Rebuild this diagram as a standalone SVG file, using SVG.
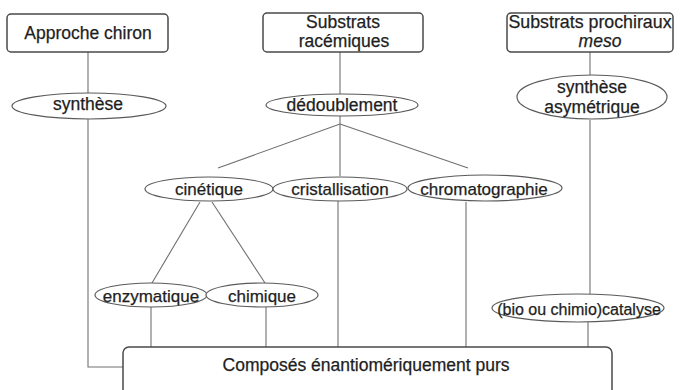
<svg xmlns="http://www.w3.org/2000/svg" width="687" height="390" viewBox="0 0 687 390">
<style>
.box{fill:#fff;stroke:#4a4a4a;stroke-width:1.5}
.ell{fill:#fff;stroke:#5a5a5a;stroke-width:1.2}
.t{font-family:"Liberation Sans",Arial,sans-serif;font-size:17.5px;fill:#1e1e1e;stroke:#1e1e1e;stroke-width:0.25;text-anchor:middle}
.c line,.c polyline{stroke:#707070;stroke-width:1.1;fill:none}
</style>
<rect width="687" height="390" fill="#fff"/>
<g class="c" id="connectors">
<line x1="88" y1="52" x2="88" y2="93"/>
<polyline points="88,119 88,367 123,367"/>
<line x1="340" y1="52" x2="340" y2="95"/>
<line x1="340" y1="116" x2="340" y2="176"/>
<line x1="340" y1="124" x2="218" y2="168"/>
<line x1="340" y1="124" x2="468" y2="168"/>
<line x1="590" y1="52" x2="590" y2="75"/>
<line x1="590" y1="120" x2="590" y2="294"/>
<line x1="200" y1="202" x2="152" y2="283"/>
<line x1="212" y1="202" x2="265" y2="283"/>
<line x1="151" y1="307" x2="151" y2="347"/>
<line x1="266" y1="307" x2="266" y2="347"/>
<line x1="338" y1="200" x2="338" y2="347"/>
<line x1="466" y1="202" x2="466" y2="347"/>
<line x1="588" y1="322" x2="588" y2="347"/>
</g>
<g id="approche-chiron"><rect class="box" x="7" y="14" width="161" height="38" rx="4"/><text class="t" x="88" y="39">Approche chiron</text></g>
<g id="substrats-racemiques"><rect class="box" x="263" y="13" width="160" height="39" rx="4"/><text class="t" x="343" y="28">Substrats</text><text class="t" x="344" y="47">racémiques</text></g>
<g id="substrats-prochiraux"><rect class="box" x="507" y="13" width="166" height="39" rx="4"/><text class="t" x="590" y="28" style="font-size:17.8px">Substrats prochiraux</text><text class="t" x="600" y="47" font-style="italic">meso</text></g>
<g id="synthese"><ellipse class="ell" cx="89" cy="106" rx="77" ry="13"/><text class="t" x="88" y="110">synthèse</text></g>
<g id="dedoublement"><ellipse class="ell" cx="342" cy="105" rx="76" ry="11"/><text class="t" x="342" y="111">dédoublement</text></g>
<g id="synthese-asymetrique"><ellipse class="ell" cx="592" cy="97" rx="75" ry="22"/><text class="t" x="592" y="93">synthèse</text><text class="t" x="592" y="113">asymétrique</text></g>
<g id="cinetique"><ellipse class="ell" cx="209" cy="189" rx="64" ry="12"/><text class="t" x="209" y="195" style="font-size:17px">cinétique</text></g>
<g id="cristallisation"><ellipse class="ell" cx="340" cy="189" rx="67" ry="12"/><text class="t" x="340" y="195" style="font-size:17px">cristallisation</text></g>
<g id="chromatographie"><ellipse class="ell" cx="485" cy="188" rx="77" ry="13"/><text class="t" x="484" y="195" style="font-size:17px">chromatographie</text></g>
<g id="enzymatique"><ellipse class="ell" cx="151" cy="295" rx="56" ry="12"/><text class="t" x="151" y="302" style="font-size:17px">enzymatique</text></g>
<g id="chimique"><ellipse class="ell" cx="262" cy="295" rx="56" ry="12"/><text class="t" x="262" y="302" style="font-size:17px">chimique</text></g>
<g id="catalyse"><ellipse class="ell" cx="578" cy="308" rx="86" ry="14"/><text class="t" x="579" y="315" style="font-size:16px">(bio ou chimio)catalyse</text></g>
<g id="composes"><rect class="box" x="123" y="347" width="489" height="60" rx="6"/><text class="t" x="366" y="371" style="font-size:17.5px">Composés énantiomériquement purs</text></g>
</svg>
